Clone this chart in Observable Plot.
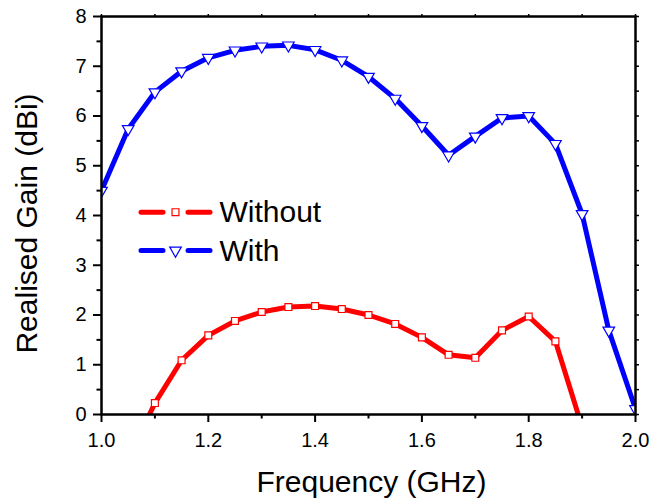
<!DOCTYPE html>
<html><head><meta charset="utf-8">
<script src="https://cdn.jsdelivr.net/npm/d3@7"></script>
<script src="https://cdn.jsdelivr.net/npm/@observablehq/plot@0.6"></script>
<style>body{margin:0;background:#fff}</style>
</head><body><div id="chart"></div>
<script>
// Data
const freqWith = [1.00, 1.05, 1.10, 1.15, 1.20, 1.25, 1.30, 1.35, 1.40, 1.45, 1.50, 1.55, 1.60, 1.65, 1.70, 1.75, 1.80, 1.85, 1.90, 1.95, 2.00];
const gainWith = [4.50, 5.74, 6.48, 6.90, 7.17, 7.32, 7.40, 7.42, 7.33, 7.12, 6.79, 6.35, 5.80, 5.21, 5.59, 5.96, 6.00, 5.44, 4.03, 1.69, 0.11];
const freqWithout = [1.05, 1.10, 1.15, 1.20, 1.25, 1.30, 1.35, 1.40, 1.45, 1.50, 1.55, 1.60, 1.65, 1.70, 1.75, 1.80, 1.85, 1.90];
const gainWithout = [-0.90, 0.23, 1.09, 1.59, 1.88, 2.06, 2.16, 2.18, 2.12, 2.00, 1.82, 1.55, 1.20, 1.14, 1.69, 1.97, 1.47, -0.25];
const seriesNames = ["Without", "With"];
const xTitle = "Frequency (GHz)";
const yTitle = "Realised Gain (dBi)";
const xMajor = [1.0, 1.2, 1.4, 1.6, 1.8, 2.0];
const xMinor = [1.1, 1.3, 1.5, 1.7, 1.9];
const xTop = [1.0, 1.1, 1.2, 1.3, 1.4, 1.5, 1.6, 1.7, 1.8, 1.9, 2.0];
const yMajor = [0, 1, 2, 3, 4, 5, 6, 7, 8];
const yMinor = [0.5, 1.5, 2.5, 3.5, 4.5, 5.5, 6.5, 7.5];
const yRight = [0, 0.5, 1, 1.5, 2, 2.5, 3, 3.5, 4, 4.5, 5, 5.5, 6, 6.5, 7, 7.5, 8];

const RED = "#ff0000", BLUE = "#0000ff";
const blank = () => "";

const chart = Plot.plot({
  width: 672, height: 504,
  marginLeft: 101, marginRight: 37, marginTop: 16, marginBottom: 90,
  style: {fontFamily: "'Liberation Sans', Arial, sans-serif", fontSize: "20px", background: "white", color: "black"},
  x: {domain: [1, 2]},
  y: {domain: [0, 8]},
  marks: [
    // series
    Plot.line(gainWithout, {x: (d, i) => freqWithout[i], y: d => d, stroke: RED, strokeWidth: 5, clip: true}),
    Plot.dot(gainWithout, {x: (d, i) => freqWithout[i], y: d => d, symbol: "square", r: 3.9, fill: "white", stroke: RED, strokeWidth: 1.2, clip: true}),
    Plot.line(gainWith, {x: (d, i) => freqWith[i], y: d => d, stroke: BLUE, strokeWidth: 5, clip: true}),
    Plot.dot(gainWith, {x: (d, i) => freqWith[i], y: d => d, symbol: "triangle", rotate: 180, r: 4.3, fill: "white", stroke: BLUE, strokeWidth: 1.2, clip: true}),
    // frame and axes
    Plot.frame({stroke: "black", strokeWidth: 2.5}),
    Plot.axisX(xMajor, {anchor: "bottom", tickSize: 8, tickPadding: 10, strokeWidth: 2, tickFormat: d => d.toFixed(1), label: null}),
    Plot.axisX(xMinor, {anchor: "bottom", tickSize: 4.5, strokeWidth: 2, tickFormat: blank, label: null}),
    Plot.axisX(xTop, {anchor: "top", tickSize: 3, strokeWidth: 1.5, tickFormat: blank, label: null}),
    Plot.axisY(yMajor, {anchor: "left", tickSize: 8, tickPadding: 7, strokeWidth: 2, tickFormat: d => String(d), label: null}),
    Plot.axisY(yMinor, {anchor: "left", tickSize: 4.5, strokeWidth: 2, tickFormat: blank, label: null}),
    Plot.axisY(yRight, {anchor: "right", tickSize: 3, strokeWidth: 1.5, tickFormat: blank, label: null}),
    // axis titles
    Plot.text([xTitle], {frameAnchor: "bottom", dx: 3, dy: 68, fontSize: 30, textAnchor: "middle", lineAnchor: "middle"}),
    Plot.text([yTitle], {frameAnchor: "left", rotate: -90, dx: -74, dy: 8, fontSize: 30, textAnchor: "middle", lineAnchor: "middle"}),
    // legend
    Plot.frame({fill: RED, insetLeft: 37, insetRight: 470, insetTop: 193.2, insetBottom: 199.8, rx: 2.5}),
    Plot.frame({fill: RED, insetLeft: 84, insetRight: 423, insetTop: 193.2, insetBottom: 199.8, rx: 2.5}),
    Plot.dot([0], {frameAnchor: "top-left", dx: 74, dy: 195.7, symbol: "square", r: 3.9, fill: "white", stroke: RED, strokeWidth: 1.2}),
    Plot.text([seriesNames[0]], {frameAnchor: "top-left", dx: 118, dy: 196, fontSize: 30, textAnchor: "start", lineAnchor: "middle"}),
    Plot.frame({fill: BLUE, insetLeft: 37, insetRight: 470, insetTop: 231.5, insetBottom: 161.5, rx: 2.5}),
    Plot.frame({fill: BLUE, insetLeft: 84, insetRight: 423, insetTop: 231.5, insetBottom: 161.5, rx: 2.5}),
    Plot.dot([0], {frameAnchor: "top-left", dx: 74, dy: 234, symbol: "triangle", rotate: 180, r: 4.3, fill: "white", stroke: BLUE, strokeWidth: 1.2}),
    Plot.text([seriesNames[1]], {frameAnchor: "top-left", dx: 118, dy: 234.4, fontSize: 30, textAnchor: "start", lineAnchor: "middle"})
  ]
});
document.getElementById("chart").append(chart);
</script>
</body></html>
